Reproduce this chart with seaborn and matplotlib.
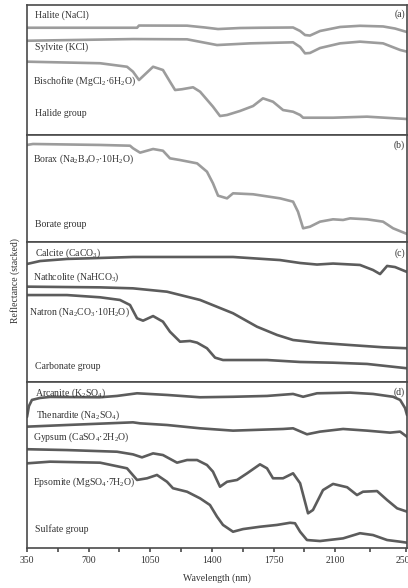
import matplotlib
matplotlib.use("Agg")
import matplotlib.pyplot as plt
import seaborn as sns
import pandas as pd

# wavelengths (nm) and stacked reflectance (fraction of panel height)
halite_nm = [350, 975, 986, 1259, 1361, 1435, 1560, 1673, 1861, 1901, 1929, 1957, 2014, 2128, 2241, 2372, 2440, 2508]
halite_r = [0.825, 0.825, 0.842, 0.841, 0.827, 0.815, 0.823, 0.825, 0.827, 0.80, 0.769, 0.765, 0.80, 0.831, 0.84, 0.835, 0.819, 0.792]

sylvite_nm = [350, 952, 1259, 1429, 1617, 1861, 1901, 1929, 1957, 2014, 2128, 2241, 2372, 2469, 2508]
sylvite_r = [0.725, 0.738, 0.736, 0.692, 0.705, 0.713, 0.677, 0.628, 0.631, 0.669, 0.705, 0.718, 0.705, 0.654, 0.641]

bischofite_nm = [350, 765, 918, 952, 986, 1066, 1122, 1162, 1191, 1230, 1293, 1333, 1406, 1446, 1486,
                 1560, 1634, 1690, 1747, 1804, 1861, 1901, 1918, 2088, 2281, 2508]
bischofite_r = [0.564, 0.552, 0.525, 0.487, 0.423, 0.525, 0.50, 0.41, 0.346, 0.352, 0.367, 0.333, 0.218, 0.146, 0.154,
                0.185, 0.223, 0.282, 0.256, 0.192, 0.179, 0.154, 0.133, 0.133, 0.141, 0.123]

borax_nm = [350, 384, 765, 935, 952, 992, 1066, 1122, 1162, 1219, 1316, 1372, 1406, 1435, 1486, 1520, 1634,
            1787, 1861, 1889, 1918, 1957, 2014, 2088, 2145, 2185, 2281, 2372, 2429, 2508]
borax_r = [0.907, 0.916, 0.907, 0.90, 0.876, 0.835, 0.869, 0.853, 0.782, 0.766, 0.735, 0.657, 0.549, 0.433, 0.408, 0.455, 0.446,
           0.408, 0.377, 0.283, 0.128, 0.143, 0.19, 0.212, 0.206, 0.221, 0.212, 0.19, 0.128, 0.075]

calcite_nm = [350, 424, 577, 952, 1520, 1787, 1901, 1997, 2088, 2241, 2315, 2355, 2395, 2440, 2508]
calcite_r = [0.843, 0.864, 0.879, 0.893, 0.893, 0.871, 0.85, 0.839, 0.846, 0.836, 0.80, 0.771, 0.829, 0.821, 0.786]

nathcolite_nm = [350, 765, 952, 1145, 1333, 1520, 1656, 1770, 1861, 1997, 2185, 2372, 2508]
nathcolite_r = [0.681, 0.676, 0.669, 0.645, 0.586, 0.491, 0.395, 0.336, 0.30, 0.281, 0.264, 0.248, 0.241]

natron_nm = [350, 577, 765, 878, 935, 975, 1009, 1066, 1122, 1162, 1219, 1276, 1316, 1372, 1418, 1463,
             1713, 1901, 2088, 2281, 2508]
natron_r = [0.621, 0.621, 0.605, 0.586, 0.55, 0.455, 0.438, 0.471, 0.431, 0.359, 0.288, 0.293, 0.281, 0.241, 0.174, 0.157,
            0.157, 0.143, 0.138, 0.129, 0.098]

arcanite_nm = [350, 361, 378, 424, 481, 765, 861, 975, 1145, 1333, 1520, 1713, 1861, 1918, 1997, 2185,
               2315, 2429, 2469, 2497, 2508]
arcanite_r = [0.789, 0.855, 0.892, 0.904, 0.91, 0.908, 0.916, 0.932, 0.922, 0.908, 0.911, 0.916, 0.928, 0.911, 0.932, 0.936,
              0.928, 0.911, 0.892, 0.843, 0.801]

thenardite_nm = [350, 577, 952, 992, 1145, 1333, 1520, 1804, 1861, 1940, 2014, 2145, 2281, 2412, 2469, 2508]
thenardite_r = [0.731, 0.741, 0.757, 0.751, 0.741, 0.721, 0.707, 0.717, 0.721, 0.685, 0.701, 0.717, 0.707, 0.695, 0.701, 0.67]

gypsum_nm = [350, 577, 861, 952, 1003, 1066, 1122, 1202, 1259, 1316, 1372, 1406, 1446, 1486, 1543, 1600, 1673,
             1713, 1747, 1804, 1861, 1901, 1946, 1974, 2031, 2088, 2168, 2224, 2258, 2338, 2395, 2452, 2508]
gypsum_r = [0.595, 0.59, 0.58, 0.564, 0.546, 0.57, 0.56, 0.514, 0.53, 0.53, 0.50, 0.46, 0.369, 0.399, 0.41, 0.45, 0.504,
            0.48, 0.42, 0.42, 0.45, 0.39, 0.209, 0.229, 0.349, 0.386, 0.366, 0.319, 0.339, 0.343, 0.289, 0.239, 0.219]

epsomite_nm = [350, 481, 765, 918, 975, 1032, 1088, 1145, 1179, 1259, 1333, 1389, 1429, 1463, 1520, 1577,
               1673, 1770, 1844, 1872, 1901, 1940, 2014, 2145, 2241, 2315, 2395, 2469, 2508]
epsomite_r = [0.51, 0.52, 0.514, 0.48, 0.41, 0.42, 0.44, 0.399, 0.36, 0.339, 0.299, 0.259, 0.189, 0.139, 0.098, 0.114,
              0.128, 0.139, 0.152, 0.149, 0.098, 0.048, 0.042, 0.058, 0.089, 0.078, 0.048, 0.038, 0.032]

# panel -> (curves, labels with position, panel tag)
panels = [
    ([(halite_nm, halite_r), (sylvite_nm, sylvite_r), (bischofite_nm, bischofite_r)],
     [("Halite (NaCl)", 0.021, 0.918),
      ("Sylvite (KCl)", 0.021, 0.672),
      ("Bischofite (MgCl$_2$·6H$_2$O)", 0.016, 0.415),
      ("Halide group", 0.021, 0.162)], "(a)", 0.931),
    ([(borax_nm, borax_r)],
     [("Borax (Na$_2$B$_4$O$_7$·10H$_2$O)", 0.016, 0.773),
      ("Borate group", 0.021, 0.165)], "(b)", 0.907),
    ([(calcite_nm, calcite_r), (nathcolite_nm, nathcolite_r), (natron_nm, natron_r)],
     [("Calcite (CaCO$_3$)", 0.021, 0.919),
      ("Nathcolite (NaHCO$_3$)", 0.016, 0.745),
      ("Natron (Na$_2$CO$_3$·10H$_2$O)", 0.005, 0.498),
      ("Carbonate group", 0.021, 0.114)], "(c)", 0.919),
    ([(arcanite_nm, arcanite_r), (thenardite_nm, thenardite_r), (gypsum_nm, gypsum_r), (epsomite_nm, epsomite_r)],
     [("Arcanite (K$_2$SO$_4$)", 0.021, 0.932),
      ("Thenardite (Na$_2$SO$_4$)", 0.024, 0.801),
      ("Gypsum (CaSO$_4$·2H$_2$O)", 0.016, 0.667),
      ("Epsomite (MgSO$_4$·7H$_2$O)", 0.016, 0.399),
      ("Sulfate group", 0.021, 0.114)], "(d)", 0.936),
]
line_colors = ["#9c9c9c", "#9c9c9c", "#5c5c5c", "#5c5c5c"]
major_ticks = [350, 700, 1050, 1400, 1750, 2100, 2500]
tick_labels = ["350", "700", "1050", "1400", "1750", "2100", "2500"]

sns.set_style("ticks")
plt.rcParams['font.family'] = ['Liberation Serif', 'DejaVu Serif']
plt.rcParams['mathtext.fontset'] = 'custom'
plt.rcParams['mathtext.rm'] = 'Liberation Serif'
plt.rcParams['mathtext.it'] = 'Liberation Serif:italic'

txt = "#333333"
fig, axes = plt.subplots(4, 1, figsize=(4.08, 5.88), dpi=100, sharex=True,
                         gridspec_kw={'height_ratios': [130, 107, 140, 166], 'hspace': 0})
fig.subplots_adjust(left=27/408, right=407/408, top=1 - 5/588, bottom=1 - 548/588)

for ax, (curves, labels, tag, tag_y), col in zip(axes, panels, line_colors):
    for nm, r in curves:
        df = pd.DataFrame({'nm': nm, 'r': r})
        sns.lineplot(data=df, x='nm', y='r', ax=ax, color=col, lw=1.9, estimator=None,
                     solid_joinstyle='round', solid_capstyle='round')
    for s, x, y in labels:
        ax.text(x, y, s, transform=ax.transAxes, fontsize=7, color=txt, va='center', ha='left')
    ax.text(0.995, tag_y, tag, transform=ax.transAxes, fontsize=7, color=txt, va='center', ha='right')
    ax.set_ylim(0, 1)
    ax.set_yticks([])
    ax.set_ylabel("")
    ax.set_xlabel("")
    for sp in ax.spines.values():
        sp.set_visible(True)
        sp.set_color("#4a4a4a")
        sp.set_linewidth(1.2)
    ax.tick_params(axis='x', which='both', bottom=False, labelbottom=False)

ax = axes[-1]
ax.set_xlim(350, 2508)
ax.set_xticks(major_ticks)
ax.set_xticklabels(tick_labels)
ax.set_xticks([(a + b) / 2 for a, b in zip(major_ticks[:-1], major_ticks[1:])], minor=True)
ax.tick_params(axis='x', which='both', bottom=True, labelbottom=True, direction='out',
               length=3, width=1.2, color="#4a4a4a", labelsize=7, labelcolor=txt, pad=3)
ax.set_xlabel("Wavelength (nm)", fontsize=7, color=txt, labelpad=6)

fig.text(15/408, 1 - 281/588, "Reflectance (stacked)", rotation=90, fontsize=7, color=txt,
         ha='center', va='center')

fig.savefig("out.png", dpi=100)
